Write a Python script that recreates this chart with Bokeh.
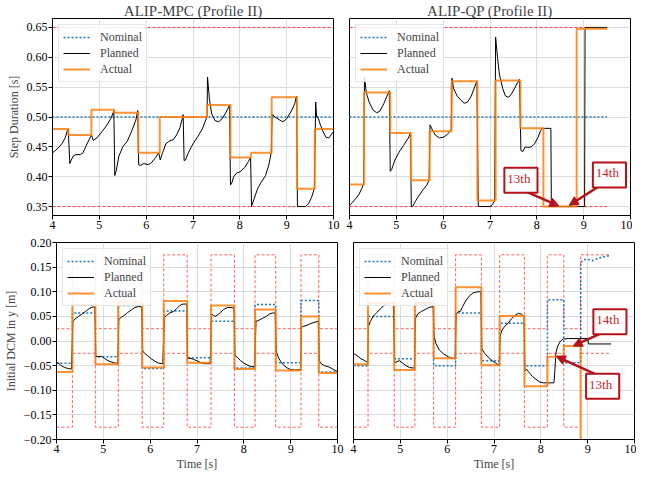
from bokeh.plotting import figure
from bokeh.models import Range1d, FixedTicker, CustomJSTickFormatter, Label, Arrow, NormalHead
from bokeh.layouts import column, row
from bokeh.embed import file_html
from bokeh.resources import INLINE

FONT = "Liberation Serif"

# ---------------- data ----------------
x_ticks = [4, 5, 6, 7, 8, 9, 10]
dur_ticks = [0.35, 0.40, 0.45, 0.50, 0.55, 0.60, 0.65]
dcm_ticks = [-0.20, -0.15, -0.10, -0.05, 0.0, 0.05, 0.10, 0.15, 0.20]

dur_nominal = 0.5
dur_min = 0.35
dur_max = 0.65

# ALIP-MPC
mpc_step_times = [4.0, 4.34, 4.83, 5.32, 5.83, 6.29, 6.79, 7.30, 7.80, 8.24, 8.68, 9.22, 9.60, 10.0]
mpc_dur_actual = [0.480, 0.470, 0.512, 0.507, 0.440, 0.500, 0.500, 0.520, 0.432, 0.440, 0.533, 0.380, 0.480]
mpc_dur_plan_t = [4.00, 4.05, 4.12, 4.20, 4.27, 4.32, 4.335, 4.37, 4.40, 4.45, 4.50, 4.60, 4.65, 4.72, 4.78, 4.82,
                  4.83, 4.87, 4.95, 5.05, 5.15, 5.25, 5.31, 5.33, 5.36, 5.42, 5.50, 5.60, 5.70, 5.78, 5.82,
                  5.84, 5.88, 5.95, 6.05, 6.12, 6.20, 6.27, 6.30, 6.35, 6.42, 6.50, 6.58, 6.65, 6.72, 6.77, 6.79,
                  6.81, 6.84, 6.90, 7.00, 7.10, 7.20, 7.27, 7.30, 7.31, 7.35, 7.40, 7.47, 7.55, 7.62, 7.70, 7.78,
                  7.80, 7.83, 7.87, 7.93, 8.00, 8.10, 8.18, 8.23, 8.25, 8.30, 8.38, 8.45, 8.55, 8.62, 8.67,
                  8.69, 8.75, 8.85, 8.92, 9.00, 9.10, 9.17, 9.21, 9.23, 9.30, 9.40, 9.47, 9.53, 9.59,
                  9.62, 9.64, 9.66, 9.68, 9.72, 9.78, 9.84, 9.90, 9.95, 10.0]
mpc_dur_plan_v = [0.440, 0.443, 0.448, 0.455, 0.465, 0.478, 0.480, 0.422, 0.428, 0.435, 0.437, 0.437, 0.440, 0.452, 0.462, 0.468,
                  0.470, 0.461, 0.465, 0.475, 0.485, 0.498, 0.510, 0.402, 0.410, 0.435, 0.450, 0.460, 0.478, 0.495, 0.511,
                  0.420, 0.419, 0.422, 0.420, 0.424, 0.432, 0.440, 0.428, 0.440, 0.455, 0.460, 0.462, 0.470, 0.482, 0.497, 0.504,
                  0.427, 0.428, 0.440, 0.455, 0.467, 0.480, 0.495, 0.500, 0.567, 0.530, 0.505, 0.494, 0.492, 0.497, 0.507, 0.520,
                  0.386, 0.390, 0.400, 0.406, 0.408, 0.415, 0.425, 0.432, 0.350, 0.362, 0.380, 0.390, 0.402, 0.420, 0.440,
                  0.505, 0.500, 0.495, 0.492, 0.497, 0.510, 0.522, 0.535, 0.350, 0.350, 0.350, 0.355, 0.365, 0.380,
                  0.525, 0.500, 0.500, 0.497, 0.487, 0.475, 0.466, 0.465, 0.470, 0.476]

mpc_dcm_actual = [-0.063, 0.073, -0.047, 0.078, -0.054, 0.081, -0.044, 0.072, -0.057, 0.064, -0.060, 0.050, -0.065]
mpc_dcm_nominal = [-0.045, 0.057, -0.032, 0.072, -0.056, 0.061, -0.034, 0.040, -0.055, 0.074, -0.044, 0.082, -0.063]
mpc_dcm_upper = [0.025, 0.175, 0.025, 0.175, 0.025, 0.175, 0.025, 0.175, 0.025, 0.175, 0.025, 0.175, 0.025]
mpc_dcm_lower = [-0.175, -0.025, -0.175, -0.025, -0.175, -0.025, -0.175, -0.025, -0.175, -0.025, -0.175, -0.025, -0.175]
mpc_dcm_plan_t = [4.00, 4.05, 4.10, 4.18, 4.25, 4.32, 4.35, 4.40, 4.47, 4.55, 4.62, 4.70, 4.77, 4.82,
                  4.84, 4.90, 4.96, 5.02, 5.10, 5.18, 5.25, 5.31, 5.33, 5.38, 5.45, 5.52, 5.60, 5.67, 5.75, 5.82,
                  5.84, 5.88, 5.95, 6.02, 6.10, 6.18, 6.27, 6.30, 6.35, 6.42, 6.50, 6.57, 6.63, 6.70, 6.78,
                  6.80, 6.85, 6.92, 7.00, 7.08, 7.16, 7.28, 7.31, 7.35, 7.39, 7.44, 7.50, 7.57, 7.65, 7.72, 7.79,
                  7.81, 7.86, 7.93, 8.00, 8.08, 8.15, 8.23, 8.26, 8.32, 8.40, 8.48, 8.55, 8.62, 8.67,
                  8.69, 8.73, 8.79, 8.86, 8.93, 9.00, 9.10, 9.21, 9.23, 9.28, 9.35, 9.42, 9.50, 9.59,
                  9.61, 9.65, 9.72, 9.80, 9.88, 9.95, 10.0]
mpc_dcm_plan_v = [-0.042, -0.046, -0.050, -0.054, -0.056, -0.057, 0.040, 0.045, 0.050, 0.055, 0.060, 0.066, 0.069, 0.069,
                  -0.031, -0.032, -0.031, -0.035, -0.040, -0.043, -0.045, -0.045, 0.044, 0.048, 0.052, 0.058, 0.063, 0.068, 0.070, 0.069,
                  -0.020, -0.025, -0.030, -0.036, -0.041, -0.045, -0.046, 0.048, 0.052, 0.057, 0.060, 0.066, 0.072, 0.075, 0.075,
                  -0.035, -0.035, -0.037, -0.040, -0.044, -0.046, -0.046, 0.055, 0.052, 0.050, 0.053, 0.058, 0.064, 0.068, 0.068, 0.067,
                  -0.030, -0.033, -0.040, -0.045, -0.049, -0.052, -0.052, 0.040, 0.042, 0.046, 0.050, 0.055, 0.057, 0.057,
                  -0.020, -0.032, -0.042, -0.050, -0.055, -0.058, -0.059, -0.058, 0.028, 0.030, 0.032, 0.035, 0.038, 0.040,
                  -0.040, -0.046, -0.050, -0.052, -0.056, -0.060, -0.062]

# ALIP-QP
qp_step_times = [4.0, 4.31, 4.87, 5.31, 5.71, 6.18, 6.73, 7.12, 7.65, 8.14, 8.49, 8.85, 9.50]
qp_dur_actual = [0.387, 0.541, 0.473, 0.394, 0.476, 0.560, 0.360, 0.561, 0.481, 0.350, 0.350, 0.648]
qp_dur_plan_t = [4.00, 4.05, 4.12, 4.20, 4.26, 4.30, 4.32, 4.36, 4.42, 4.50, 4.58, 4.65, 4.73, 4.80, 4.85,
                 4.87, 4.90, 4.97, 5.05, 5.15, 5.25, 5.30, 5.32, 5.35, 5.40, 5.48, 5.57, 5.65, 5.70,
                 5.72, 5.76, 5.83, 5.92, 6.00, 6.08, 6.17, 6.19, 6.22, 6.30, 6.38, 6.45, 6.52, 6.60, 6.68, 6.72,
                 6.75, 7.00, 7.05, 7.10, 7.12, 7.16, 7.20, 7.27, 7.33, 7.40, 7.47, 7.55, 7.63,
                 7.66, 7.70, 7.75, 7.80, 7.88, 7.95, 8.02, 8.08, 8.11, 8.30, 8.31, 9.02, 9.03, 9.50]
qp_dur_plan_v = [0.352, 0.356, 0.362, 0.370, 0.380, 0.388, 0.567, 0.540, 0.525, 0.512, 0.507, 0.510, 0.522, 0.535, 0.544,
                 0.409, 0.412, 0.428, 0.440, 0.452, 0.464, 0.472, 0.350, 0.350, 0.358, 0.368, 0.378, 0.386, 0.394,
                 0.487, 0.480, 0.470, 0.465, 0.466, 0.470, 0.478, 0.565, 0.548, 0.535, 0.528, 0.523, 0.525, 0.535, 0.552, 0.560,
                 0.350, 0.350, 0.353, 0.360, 0.634, 0.600, 0.572, 0.548, 0.535, 0.533, 0.540, 0.552, 0.563,
                 0.444, 0.442, 0.450, 0.449, 0.450, 0.455, 0.465, 0.477, 0.481, 0.481, 0.350, 0.350, 0.650, 0.650]

qp_dcm_actual = [-0.047, 0.077, -0.059, 0.077, -0.035, 0.109, -0.049, 0.051, -0.092, -0.032, -0.010, -0.450]
qp_dcm_nominal = [-0.050, 0.050, -0.036, 0.074, -0.050, 0.057, -0.040, 0.036, -0.050, 0.084, -0.044]
qp_dcm_nominal_tail_t = [8.85, 8.92, 9.00, 9.10, 9.20, 9.30, 9.40, 9.50]
qp_dcm_nominal_tail_v = [0.160, 0.165, 0.166, 0.163, 0.167, 0.170, 0.172, 0.174]
qp_dcm_upper = [0.025, 0.175, 0.025, 0.175, 0.025, 0.175, 0.025, 0.175, 0.025, 0.175, 0.025, 0.175]
qp_dcm_lower = [-0.175, -0.025, -0.175, -0.025, -0.175, -0.025, -0.175, -0.025, -0.175, -0.025, -0.175, -0.025]
qp_dcm_plan_t = [4.00, 4.08, 4.16, 4.24, 4.30, 4.32, 4.36, 4.42, 4.50, 4.58, 4.66, 4.74, 4.85,
                 4.88, 4.93, 4.98, 5.05, 5.12, 5.20, 5.30, 5.32, 5.37, 5.45, 5.53, 5.61, 5.70,
                 5.72, 5.76, 5.83, 5.92, 6.02, 6.10, 6.17, 6.19, 6.24, 6.28, 6.33, 6.40, 6.48, 6.56, 6.65, 6.72,
                 6.74, 6.80, 6.88, 6.96, 7.04, 7.11, 7.13, 7.17, 7.23, 7.30, 7.37, 7.45, 7.52, 7.58, 7.64,
                 7.66, 7.70, 7.75, 7.82, 7.90, 7.97, 8.05, 8.28, 8.30, 8.32, 8.36, 8.42, 8.48, 8.60, 9.00, 9.02, 9.50]
qp_dcm_plan_v = [-0.025, -0.030, -0.036, -0.040, -0.043, 0.030, 0.040, 0.050, 0.058, 0.066, 0.073, 0.077, 0.077,
                 -0.045, -0.042, -0.040, -0.045, -0.050, -0.054, -0.055, 0.045, 0.055, 0.060, 0.064, 0.068, 0.070,
                 0.010, -0.005, -0.018, -0.026, -0.032, -0.035, -0.036, 0.055, 0.060, 0.060, 0.070, 0.082, 0.092, 0.098, 0.100, 0.100,
                 -0.016, -0.025, -0.033, -0.040, -0.045, -0.050, 0.010, 0.022, 0.030, 0.036, 0.045, 0.052, 0.056, 0.055, 0.050,
                 -0.060, -0.058, -0.064, -0.072, -0.078, -0.083, -0.085, -0.085, -0.060, -0.025, -0.010, 0.000, 0.004, 0.005, 0.005, -0.006, -0.006]

# annotations (text, label x, label y, arrow start x, y, arrow end x, y)
notes_dur = [("13th", 7.66, 0.394, 7.68, 0.378, 8.47, 0.351),
             ("14th", 9.55, 0.403, 9.37, 0.386, 8.69, 0.352)]
notes_dcm = [("14th", 9.475, 0.039, 9.37, 0.019, 8.69, -0.010),
             ("13th", 9.32, -0.092, 9.27, -0.072, 8.33, -0.031)]

# ---------------- styling ----------------
C_NOM = "#1f77b4"
C_ACT = "#ff7f0e"
C_BND = "#ff2020"
C_ANN = "#b5121b"
C_ANN_TXT = "#c8262b"


def steps(bounds, vals):
    xs, ys = [], []
    for i, v in enumerate(vals):
        xs += [bounds[i], bounds[i + 1]]
        ys += [v, v]
    return xs, ys


fmt2 = CustomJSTickFormatter(code="return tick.toFixed(2).replace('-', '\u2212');")


def make_fig(title, is_left, is_top, yr, yticks, ylabel):
    p = figure(frame_width=281, frame_height=197,
               x_range=Range1d(4, 10), y_range=Range1d(*yr),
               output_backend="svg", toolbar_location=None,
               min_border_left=52 if is_left else 9,
               min_border_right=7 if is_left else 2,
               min_border_top=17 if is_top else 8,
               min_border_bottom=19 if is_top else 31,
               title=title)
    p.background_fill_color = "white"
    p.border_fill_color = "white"
    p.outline_line_color = "black"
    p.outline_line_width = 1
    if title:
        p.title.text_font = FONT
        p.title.text_font_size = "15px"
        p.title.text_font_style = "normal"
        p.title.align = "center"
        p.title.standoff = 0
    for ax in (p.xaxis, p.yaxis):
        ax.major_label_text_font = FONT
        ax.major_label_text_font_size = "12px"
        ax.major_label_text_color = "black"
        ax.major_tick_out = 4
        ax.major_tick_in = 0
        ax.minor_tick_out = 0
        ax.minor_tick_in = 0
        ax.axis_line_color = "black"
        ax.major_label_standoff = 1
        ax.axis_label_text_font = FONT
        ax.axis_label_text_font_size = "12px"
        ax.axis_label_text_font_style = "normal"
        ax.axis_label_standoff = 1
    p.xaxis.ticker = FixedTicker(ticks=x_ticks)
    p.yaxis.ticker = FixedTicker(ticks=yticks)
    p.yaxis.formatter = fmt2
    p.xgrid.ticker = FixedTicker(ticks=x_ticks)
    p.ygrid.ticker = FixedTicker(ticks=yticks)
    p.grid.grid_line_color = "#dcdcdc"
    p.grid.grid_line_width = 1
    if is_left:
        p.yaxis.axis_label = ylabel
        p.yaxis.axis_label_standoff = 3
    else:
        p.yaxis.visible = False
    if not is_top:
        p.xaxis.axis_label = "Time [s]"
    return p


def add_legend(p):
    lg = p.legend[0]
    lg.location = "top_left"
    lg.label_text_font = FONT
    lg.label_text_font_size = "12px"
    lg.border_line_color = "#cccccc"
    lg.border_line_width = 1
    lg.background_fill_alpha = 0.85
    lg.padding = 4
    lg.spacing = 0
    lg.label_height = 16
    lg.glyph_height = 16
    lg.glyph_width = 27
    lg.label_standoff = 10
    lg.margin = 6


def add_notes(p, notes):
    for txt, lx, ly, sx, sy, ex, ey in notes:
        p.add_layout(Arrow(end=NormalHead(size=9, fill_color=C_ANN, line_color=C_ANN),
                           x_start=sx, y_start=sy, x_end=ex, y_end=ey,
                           line_color=C_ANN, line_width=2.5))
        p.add_layout(Label(x=lx, y=ly, text=txt, text_align="center", text_baseline="middle",
                           text_font=FONT, text_font_size="13px", text_color=C_ANN_TXT,
                           background_fill_color="white", border_line_color=C_ANN,
                           border_line_width=2, padding=(3, 7, 3, 7)))


def duration_panel(title, is_left, bounds, actual, plan_t, plan_v, notes=None):
    p = make_fig(title, is_left, True, (0.335, 0.665), dur_ticks, "Step Duration [s]")
    t0, t1 = bounds[0], bounds[-1]
    p.line([t0, t1], [dur_min, dur_min], line_color=C_BND, line_width=1, line_dash="3 2", line_alpha=0.8)
    p.line([t0, t1], [dur_max, dur_max], line_color=C_BND, line_width=1, line_dash="3 2", line_alpha=0.8)
    p.line([t0, t1], [dur_nominal, dur_nominal], line_color=C_NOM, line_width=1.5, line_dash="2 2",
           legend_label="Nominal")
    p.line(plan_t, plan_v, line_color="black", line_width=1, legend_label="Planned")
    ax, ay = steps(bounds, actual)
    p.line(ax, ay, line_color=C_ACT, line_width=2, line_alpha=0.85, legend_label="Actual")
    add_legend(p)
    if notes:
        add_notes(p, notes)
    return p


def dcm_panel(is_left, bounds, actual, nominal, upper, lower, plan_t, plan_v,
              tail_t=None, tail_v=None, notes=None):
    p = make_fig(None, is_left, False, (-0.2, 0.2), dcm_ticks, "Initial DCM in y [m]")
    ux, uy = steps(bounds, upper)
    lx, ly = steps(bounds, lower)
    p.line(ux, uy, line_color=C_BND, line_width=1, line_dash="3 2", line_alpha=0.7)
    p.line(lx, ly, line_color=C_BND, line_width=1, line_dash="3 2", line_alpha=0.7)
    nx, ny = steps(bounds, nominal)
    if tail_t:
        nx = nx + tail_t
        ny = ny + tail_v
    p.line(nx, ny, line_color=C_NOM, line_width=1.5, line_dash="2 2", legend_label="Nominal")
    p.line(plan_t, plan_v, line_color="black", line_width=1, legend_label="Planned")
    axx, ayy = steps(bounds, actual)
    p.line(axx, ayy, line_color=C_ACT, line_width=2, line_alpha=0.85, legend_label="Actual")
    add_legend(p)
    if notes:
        add_notes(p, notes)
    return p


p1 = duration_panel("ALIP-MPC (Profile II)", True, mpc_step_times, mpc_dur_actual, mpc_dur_plan_t, mpc_dur_plan_v)
p2 = duration_panel("ALIP-QP (Profile II)", False, qp_step_times, qp_dur_actual, qp_dur_plan_t, qp_dur_plan_v,
                    notes=notes_dur)
p3 = dcm_panel(True, mpc_step_times, mpc_dcm_actual, mpc_dcm_nominal, mpc_dcm_upper, mpc_dcm_lower,
               mpc_dcm_plan_t, mpc_dcm_plan_v)
p4 = dcm_panel(False, qp_step_times, qp_dcm_actual, qp_dcm_nominal, qp_dcm_upper, qp_dcm_lower,
               qp_dcm_plan_t, qp_dcm_plan_v, tail_t=qp_dcm_nominal_tail_t, tail_v=qp_dcm_nominal_tail_v,
               notes=notes_dcm)

layout = column(row(p1, p2), row(p3, p4))
open("out.html", "w").write(file_html(layout, INLINE))
